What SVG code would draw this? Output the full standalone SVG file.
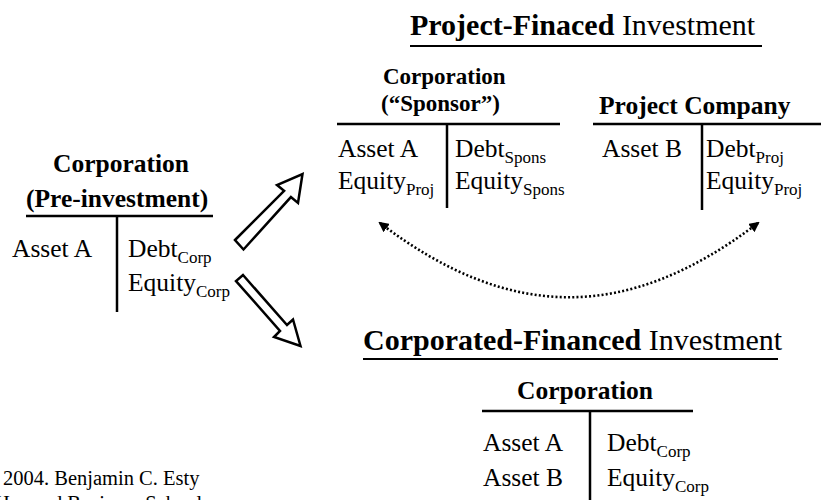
<svg xmlns="http://www.w3.org/2000/svg" width="821" height="500" viewBox="0 0 821 500">
  <style>
    text { font-family: "Liberation Serif", "Times New Roman", serif; fill: #000; }
    .t { font-size: 25.5px; }
    .h { font-size: 25.5px; font-weight: bold; }
    .hs { font-size: 23px; font-weight: bold; }
    .title { font-size: 30px; font-weight: bold; }
    .reg { font-weight: normal; }
    .sub { font-size: 17px; }
    .note { font-size: 20.5px; }
    .rule { stroke: #000; stroke-width: 2.5; fill: none; }
    .uline { stroke: #000; stroke-width: 2; fill: none; }
    .block { fill: #fff; stroke: #000; stroke-width: 2.5; stroke-linejoin: miter; }
    .dots { fill: none; stroke: #000; stroke-width: 2.6; stroke-dasharray: 2 2.2; }
  </style>
  <defs>
    <marker id="tip" viewBox="0 0 10 10" refX="8" refY="5" markerWidth="4" markerHeight="4" orient="auto-start-reverse">
      <path d="M0,0 L10,5 L0,10 z" fill="#000"/>
    </marker>
  </defs>
  <rect width="821" height="500" fill="#fff"/>

  <!-- Corporation before the investment -->
  <g id="pre-investment">
    <text class="h" x="53" y="172">Corporation</text>
    <text class="h" x="26" y="207">(Pre-investment)</text>
    <line class="rule" x1="26" y1="216" x2="213" y2="216"/>
    <line class="rule" x1="117" y1="216" x2="117" y2="312"/>
    <text class="t" x="12" y="257">Asset A</text>
    <text class="t" x="128" y="257">Debt<tspan class="sub" dy="6">Corp</tspan></text>
    <text class="t" x="128" y="291">Equity<tspan class="sub" dy="6">Corp</tspan></text>
  </g>

  <!-- Project-financed heading -->
  <g id="project-financed-title">
    <text class="title" x="410" y="35">Project-Finaced <tspan class="reg">Investment</tspan></text>
    <line class="uline" x1="410" y1="46" x2="762" y2="46"/>
  </g>

  <!-- Sponsor balance sheet -->
  <g id="sponsor">
    <text class="hs" x="383" y="84">Corporation</text>
    <text class="hs" x="381" y="111">(“Sponsor”)</text>
    <line class="rule" x1="337" y1="124" x2="560" y2="124"/>
    <line class="rule" x1="447" y1="124" x2="447" y2="208"/>
    <text class="t" x="338" y="157">Asset A</text>
    <text class="t" x="455" y="157">Debt<tspan class="sub" dy="6">Spons</tspan></text>
    <text class="t" x="338" y="189">Equity<tspan class="sub" dy="6">Proj</tspan></text>
    <text class="t" x="455" y="189">Equity<tspan class="sub" dy="6">Spons</tspan></text>
  </g>

  <!-- Project company balance sheet -->
  <g id="project-company">
    <text class="h" x="599" y="114">Project Company</text>
    <line class="rule" x1="593" y1="124" x2="821" y2="124"/>
    <line class="rule" x1="702" y1="124" x2="702" y2="210"/>
    <text class="t" x="602" y="157">Asset B</text>
    <text class="t" x="706" y="157">Debt<tspan class="sub" dy="6">Proj</tspan></text>
    <text class="t" x="706" y="189">Equity<tspan class="sub" dy="6">Proj</tspan></text>
  </g>

  <!-- Corporate-financed heading -->
  <g id="corporate-financed-title">
    <text class="title" x="363" y="350">Corporated-Financed <tspan class="reg">Investment</tspan></text>
    <line class="uline" x1="363" y1="359" x2="778" y2="359"/>
  </g>

  <!-- Combined corporation balance sheet -->
  <g id="corporation">
    <text class="h" x="517" y="399">Corporation</text>
    <line class="rule" x1="482" y1="411" x2="693" y2="411"/>
    <line class="rule" x1="590" y1="411" x2="590" y2="500"/>
    <text class="t" x="483" y="451">Asset A</text>
    <text class="t" x="607" y="451">Debt<tspan class="sub" dy="6">Corp</tspan></text>
    <text class="t" x="483" y="486">Asset B</text>
    <text class="t" x="607" y="486">Equity<tspan class="sub" dy="6">Corp</tspan></text>
  </g>

  <!-- Copyright line -->
  <g id="credit">
    <text class="note" x="3" y="485">2004. Benjamin C. Esty</text>
    <text class="note" x="-5" y="510">Harvard Business School</text>
  </g>

  <!-- Connectors -->
  <g id="connectors">
    <polygon class="block" points="235,240 284.1,190.9 277,185 302.5,174 298,203 290.9,197.1 243.5,249.5"/>
    <polygon class="block" points="243,275 287,325 293,319.5 300.5,346 274,337 280,331 236,281"/>
    <path class="dots" d="M380,223 C510,322 628,322 758,223" marker-start="url(#tip)" marker-end="url(#tip)"/>
  </g>
</svg>
